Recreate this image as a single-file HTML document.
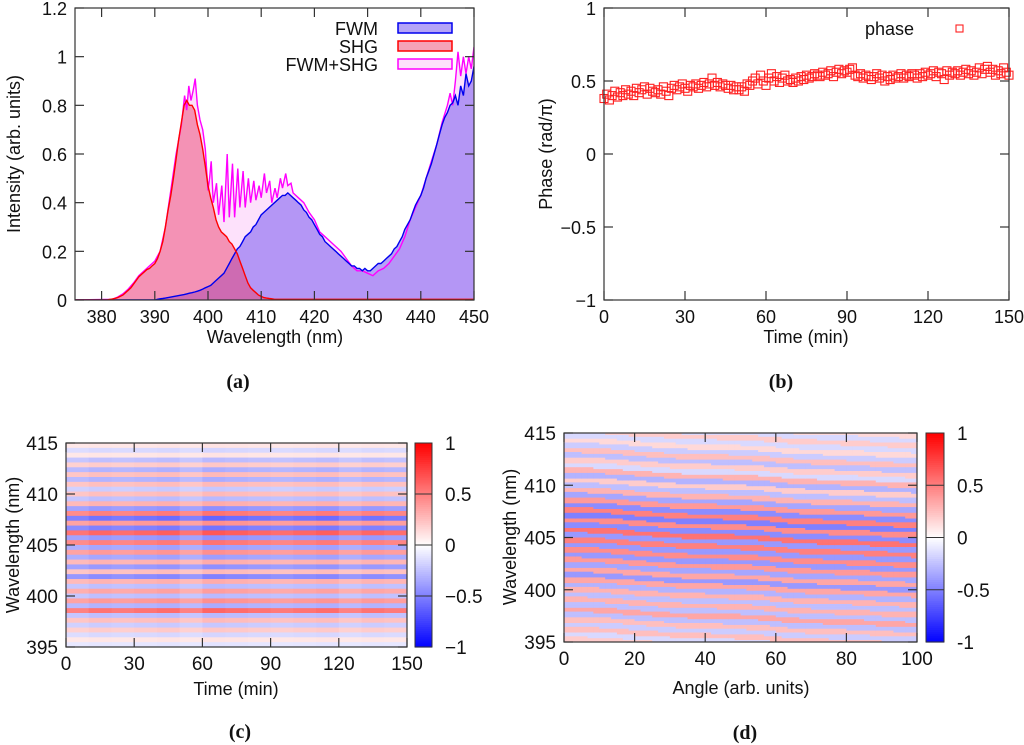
<!DOCTYPE html>
<html><head><meta charset="utf-8"><style>
body{margin:0;background:#fff;width:1024px;height:745px;overflow:hidden}
svg{display:block}
text{font-family:"Liberation Sans",sans-serif;fill:#111}
.lab{font-family:"Liberation Serif",serif;font-weight:bold;font-size:20px}
</style></head><body>
<svg id="fig" width="1024" height="745"></svg>
<script>
// ---------- Panel (a) data ----------
const specStart = 375, specStep = 0.5;
const shgVals = [0,0,0,0,0,0,0,0,0,0,0,0,0,0.002,0.004,0.006,0.01,0.015,0.02,0.03,0.04,0.05,0.065,0.08,0.095,0.105,0.115,0.125,0.13,0.14,0.15,0.17,0.2,0.24,0.3,0.37,0.43,0.5,0.58,0.66,0.73,0.8,0.82,0.8,0.8,0.78,0.72,0.68,0.62,0.55,0.47,0.42,0.38,0.33,0.3,0.28,0.27,0.26,0.24,0.23,0.21,0.19,0.16,0.13,0.1,0.07,0.05,0.04,0.03,0.02,0.015,0.01,0.008,0.006,0.005,
0.003,0.003,0.003,0.003,0.003,0.003,0.003,0.003,0.003,0.003,0.003,0.003,0.003,0.003,0.003,0.003,0.003,0.003,0.003,0.003,0.003,0.003,0.003,0.003,0.003,0.003,0.003,0.003,0.003,0.003,0.003,0.003,0.003,0.003,0.003,0.003,0.003,0.003,0.003,0.003,0.003,0.003,0.003,0.003,0.003,0.003,0.003,0.003,0.003,0.003,0.003,0.003,0.003,0.003,0.003,0.003,0.003,0.003,0.003,0.003,0.003,0.003,0.003,0.003,0.003,0.003,0.003,0.003,0.003,0.003,0.003,0.003,0.003,0.003,0.003,0.003];
const fwmVals = [0,0,0,0,0,0,0,0,0,0,0,0,0,0,0,0,0,0,0,0,0,0,0,0,0,0,0,0,0,0,0,
0.003,0.005,0.006,0.008,0.01,0.012,0.014,0.016,0.018,0.02,0.022,0.025,0.028,0.03,0.033,0.036,0.04,0.045,0.05,
0.055,0.06,0.07,0.08,0.09,0.1,0.11,0.13,0.15,0.17,0.19,0.21,0.22,0.24,0.26,0.27,0.28,0.3,0.31,0.33,0.35,0.36,0.37,0.38,0.39,0.4,0.41,0.42,0.43,0.43,0.44,0.43,0.42,0.41,0.4,0.39,0.37,0.36,0.34,0.33,0.31,0.29,0.27,0.26,0.24,0.23,0.22,0.21,0.2,0.19,0.18,0.17,0.16,0.15,0.14,0.14,0.13,0.13,0.12,0.13,0.12,0.12,0.13,0.14,0.15,0.15,0.16,0.17,0.18,0.19,0.21,0.22,0.24,0.26,0.29,0.31,0.33,0.36,0.39,0.41,0.43,0.46,0.5,0.53,0.56,0.6,0.64,0.68,0.72,0.75,0.77,0.8,0.81,0.84,0.8,0.88,0.84,0.93,0.88,0.9,0.96];
const sumX = [375,382,383,384,385,386,387,388,389,390,391,392,393,394,395,395.6,396,396.4,396.8,397.2,397.6,398,398.5,399,399.5,400,400.3,400.6,401,401.6,402,402.6,403,403.6,404,404.6,405,405.6,406,406.6,407,407.6,408,408.6,409,409.6,410,410.6,411,411.6,412,412.6,413,413.6,414,414.6,415,415.6,416,417,418,419,420,421,422,423,424,425,426,427,428,429,430,431,432,433,434,435,436,437,438,439,440,441,442,443,444,445,445.5,446,446.5,447,447.5,448,448.5,449,449.5,450];
const sumY = [0,0.003,0.012,0.025,0.045,0.07,0.1,0.12,0.14,0.16,0.2,0.3,0.45,0.6,0.72,0.84,0.78,0.88,0.82,0.86,0.91,0.8,0.74,0.7,0.62,0.45,0.5,0.57,0.4,0.48,0.35,0.47,0.32,0.6,0.34,0.56,0.34,0.54,0.38,0.53,0.38,0.5,0.4,0.49,0.41,0.47,0.42,0.52,0.44,0.49,0.4,0.46,0.42,0.5,0.46,0.52,0.47,0.48,0.44,0.42,0.4,0.36,0.33,0.28,0.26,0.24,0.22,0.2,0.17,0.14,0.12,0.12,0.11,0.1,0.12,0.13,0.15,0.18,0.21,0.26,0.33,0.38,0.43,0.5,0.57,0.64,0.73,0.8,0.85,0.8,0.9,1.02,0.92,1.0,0.93,1.0,0.95,1.04];
const aXTicks = [380,390,400,410,420,430,440,450];
const aYTicks = [0,0.2,0.4,0.6,0.8,1,1.2];
const aYLabels = ["0","0.2","0.4","0.6","0.8","1","1.2"];

// ---------- Panel (b) data ----------
const phaseVals = [.38,.41,.37,.40,.43,.39,.42,.40,.44,.41,.43,.40,.45,.42,.44,.46,.41,.45,.43,.42,.44,.41,.46,.43,.40,.45,.47,.44,.46,.48,.45,.43,.47,.46,.48,.45,.47,.49,.46,.48,.52,.47,.49,.46,.48,.47,.45,.47,.44,.46,.44,.46,.43,.48,.47,.50,.52,.48,.54,.50,.47,.52,.55,.50,.53,.49,.52,.54,.50,.51,.49,.52,.50,.53,.51,.54,.52,.53,.55,.54,.53,.56,.54,.55,.57,.53,.56,.58,.55,.57,.56,.58,.59,.54,.53,.55,.52,.54,.53,.51,.53,.55,.52,.54,.50,.53,.51,.54,.52,.53,.55,.52,.54,.53,.55,.54,.52,.55,.53,.56,.54,.55,.57,.53,.56,.55,.51,.57,.54,.56,.55,.57,.54,.56,.58,.55,.57,.54,.56,.59,.55,.58,.60,.56,.58,.54,.57,.55,.59,.56,.54];
const phaseStepMin = 1;
const bXTicks = [0,30,60,90,120,150];
const bYTicks = [-1,-0.5,0,0.5,1];
const bYLabels = ["\u22121","\u22120.5","0","0.5","1"];

// ---------- Panel (c) data ----------
const cRows = [0.1,-0.15,0.1,-0.25,0.2,-0.3,0.25,-0.3,0.25,-0.2,0.25,-0.25,0.3,-0.4,0.5,-0.55,0.4,-0.5,0.6,-0.4,0.5,-0.35,0.4,-0.35,0.3,-0.4,0.25,-0.45,0.3,-0.25,0.35,-0.25,0.4,-0.3,0.55,-0.25,0.25,-0.2,0.2,-0.15,0.1,-0.1];
const cColScale = [0.9,1,0.95,1,1.05,0.9,1.1,1.05,1,0.95,1,1.05,0.9,1,0.95];
const cXTicks = [0,30,60,90,120,150];
const wlTicks = [395,400,405,410,415];
const cbTicks = [-1,-0.5,0,0.5,1];
const cbLabelsC = ["\u22121","\u22120.5","0","0.5","1"];

// ---------- Panel (d) data ----------
const dRows = [0.15,-0.15,0.2,-0.15,0.15,-0.2,0.25,-0.25,0.2,-0.15,0.3,-0.3,0.2,-0.25,0.3,-0.35,0.4,-0.45,0.5,-0.5,0.45,-0.45,0.55,-0.4,0.5,-0.4,0.45,-0.4,0.4,-0.35,0.35,-0.4,0.35,-0.3,0.3,-0.25,0.3,-0.25,0.35,-0.25,0.25,-0.2,0.25,-0.15,0.2,-0.1,0.35,-0.15,0.25,-0.15];
const dShiftAngles = [0,5,10,15,20,25,30,35,40,45,50,55,60,65,70,75,80,85,90,95,100];
const dShift = [0,0,0.05,0.15,0.3,0.4,0.5,0.6,0.6,0.65,0.7,0.75,0.9,1.05,1.1,1.15,1.2,1.25,1.35,1.4,1.45];
const dXTicks = [0,20,40,60,80,100];
const cbLabelsD = ["-1","-0.5","0","0.5","1"];

const NS="http://www.w3.org/2000/svg";
const fig=document.getElementById('fig');
function el(tag,attrs,parent){const e=document.createElementNS(NS,tag);for(const k in attrs)e.setAttribute(k,attrs[k]);(parent||fig).appendChild(e);return e;}
function txt(x,y,s,size,anchor,parent,extra){const t=el('text',Object.assign({x:x,y:y,'font-size':size,'text-anchor':anchor||'middle'},extra||{}),parent);t.textContent=s;return t;}
function lin(d0,d1,p0,p1){return v=>p0+(v-d0)*(p1-p0)/(d1-d0);}
function cmap(v){v=Math.max(-1,Math.min(1,v));let r,g,b;if(v>=0){r=255;g=b=Math.round(255*(1-v));}else{b=255;r=g=Math.round(255*(1+v));}return `rgb(${r},${g},${b})`;}
function axesFrame(g,L,T,R,B){el('rect',{x:L,y:T,width:R-L,height:B-T,fill:'none',stroke:'#333','stroke-width':1.2},g);}
function xTicks(g,ticks,labels,sx,T,B,size,name){ticks.forEach((t,i)=>{const x=sx(t);el('line',{x1:x,x2:x,y1:B,y2:B-9,stroke:'#333','stroke-width':1.2},g);el('line',{x1:x,x2:x,y1:T,y2:T+9,stroke:'#333','stroke-width':1.2},g);const tt=txt(x,B+23,labels[i],size,'middle',g);

});}
function yTicks(g,ticks,labels,sy,L,R,size,name){ticks.forEach((t,i)=>{const y=sy(t);el('line',{x1:L,x2:L+9,y1:y,y2:y,stroke:'#333','stroke-width':1.2},g);el('line',{x1:R,x2:R-9,y1:y,y2:y,stroke:'#333','stroke-width':1.2},g);const tt=txt(L-8,y+7,labels[i],size,'end',g);

});}

// ===== Panel a =====
(function(){
const g=el('g',{});
const L=75,R=474,T=8,B=300;const sx=lin(375,450,L,R),sy=lin(0,1.2,B,T);
const clip=el('clipPath',{id:'ca'},g);el('rect',{x:L,y:T,width:R-L,height:B-T},clip);
const pg=el('g',{'clip-path':'url(#ca)'},g);
function pathFrom(xs,ys){return xs.map((x,i)=>(i?'L':'M')+sx(x).toFixed(1)+','+sy(ys[i]).toFixed(1)).join(' ');}
const gx=shgVals.map((_,i)=>specStart+i*specStep);
const fx=fwmVals.map((_,i)=>specStart+i*specStep);
const sp=pathFrom(sumX,sumY),fp=pathFrom(fx,fwmVals),hp=pathFrom(gx,shgVals);
const close=(p,x0,x1)=>p+` L${sx(x1)},${B} L${sx(x0)},${B} Z`;
let e;
e=el('path',{d:close(sp,sumX[0],sumX[sumX.length-1]),fill:'rgba(252,200,248,0.55)'},pg);

e=el('path',{d:close(fp,fx[0],fx[fx.length-1]),fill:'rgba(120,90,240,0.55)'},pg);

e=el('path',{d:close(hp,gx[0],gx[gx.length-1]),fill:'rgba(235,60,105,0.48)'},pg);

e=el('path',{d:sp,fill:'none',stroke:'#ff00ff','stroke-width':1.4},pg);

e=el('path',{d:fp,fill:'none',stroke:'#0000ee','stroke-width':1.4},pg);

e=el('path',{d:hp,fill:'none',stroke:'#ff0000','stroke-width':1.4},pg);

axesFrame(g,L,T,R,B);
xTicks(g,aXTicks,aXTicks.map(String),sx,T,B,18,'a-x');
yTicks(g,aYTicks,aYLabels,sy,L,R,18,'a-y');
let t=txt(275,343,'Wavelength (nm)',18,'middle',g);
t=txt(0,0,'Intensity (arb. units)',18,'middle',g,{transform:'translate(20,154) rotate(-90)'});
const leg=[['FWM','rgba(120,90,240,0.55)','#0000ee'],['SHG','rgba(235,60,105,0.48)','#ff0000'],['FWM+SHG','rgba(252,200,248,0.55)','#ff00ff']];
leg.forEach((l,i)=>{const y=28+i*18;const lg=el('g',{},g);
txt(378,y+7,l[0],18,'end',lg);el('rect',{x:398,y:y-5,width:54,height:10,fill:l[1],stroke:l[2],'stroke-width':1.5},lg);});
t=txt(238,388,'(a)',20,'middle',g,{class:'lab'});
})();

// ===== Panel b =====
(function(){
const g=el('g',{});
const L=604,R=1009,T=8,B=300;const sx=lin(0,150,L,R),sy=lin(-1,1,B,T);
phaseVals.forEach((v,i)=>{const r=el('rect',{x:sx(i*phaseStepMin)-4,y:sy(v)-4,width:8,height:8,fill:'none',stroke:'#ff2020','stroke-width':1.1},g);

});
axesFrame(g,L,T,R,B);
xTicks(g,bXTicks,bXTicks.map(String),sx,T,B,18,'b-x');
yTicks(g,bYTicks,bYLabels,sy,L,R,18,'b-y');
let t=txt(806,343,'Time (min)',18,'middle',g);
t=txt(0,0,'Phase (rad/\u03c0)',18,'middle',g,{transform:'translate(552,154) rotate(-90)'});
const lg=el('g',{},g);
txt(914,35,'phase',18,'end',lg);el('rect',{x:956,y:25,width:7,height:7,fill:'none',stroke:'#ff2020','stroke-width':1.1},lg);
t=txt(781,388,'(b)',20,'middle',g,{class:'lab'});
})();

function colorbar(g,x,T,B,w,labels,name){
const sy=lin(-1,1,B,T);const n=100;
for(let i=0;i<n;i++){const v=-1+2*(i+0.5)/n;el('rect',{x:x,y:sy(-1+2*(i+1)/n),width:w,height:(B-T)/n+0.6,fill:cmap(v)},g);}
el('rect',{x:x,y:T,width:w,height:B-T,fill:'none',stroke:'#333','stroke-width':1},g);
cbTicks.forEach((t,i)=>{const y=sy(t);el('line',{x1:x,x2:x+w,y1:y,y2:y,stroke:'#333','stroke-width':1},g);const tt=txt(x+w+13,y+7,labels[i],19,'start',g);

});
}

// ===== Panel c =====
(function(){
const g=el('g',{});
const L=66,R=407,T=443,B=647;const sx=lin(0,150,L,R),sy=lin(395,415,B,T);
const nR=cRows.length,nC=cColScale.length,dw=20/nR,dt=150/nC;
cRows.forEach((a,i)=>{cColScale.forEach((s,j)=>{const w1=415-i*dw;const r=el('rect',{x:sx(j*dt),y:sy(w1),width:sx(dt)-sx(0)+0.5,height:sy(395)-sy(395+dw)+0.5,fill:cmap(a*s)},g);

});});
axesFrame(g,L,T,R,B);
xTicks(g,cXTicks,cXTicks.map(String),sx,T,B,19,'c-x');
yTicks(g,wlTicks,wlTicks.map(String),sy,L,R,19,'c-y');
colorbar(g,415,T,B,17,cbLabelsC,'c');
let t=txt(236,695,'Time (min)',18,'middle',g);
t=txt(0,0,'Wavelength (nm)',18,'middle',g,{transform:'translate(19,545) rotate(-90)'});
t=txt(240,738,'(c)',20,'middle',g,{class:'lab'});
})();

// ===== Panel d =====
(function(){
const g=el('g',{});
const L=564,R=917,T=433,B=642;const sx=lin(0,100,L,R),sy=lin(395,415,B,T);
const dw=20/42, top=415+3*dw;
function shiftAt(a){for(let k=0;k<dShiftAngles.length-1;k++){if(a<=dShiftAngles[k+1]){const f=(a-dShiftAngles[k])/(dShiftAngles[k+1]-dShiftAngles[k]);return dShift[k]+f*(dShift[k+1]-dShift[k]);}}return dShift[dShift.length-1];}
const nCol=60,nSub=110;
for(let j=0;j<nCol;j++){const a=(j+0.5)*100/nCol;const sh=shiftAt(a);
for(let k=0;k<nSub;k++){const w=415-(k+0.5)*20/nSub;const idx=Math.max(0,Math.min(dRows.length-1,Math.floor((top-(w+sh))/dw)));
const r=el('rect',{x:sx(j*100/nCol),y:sy(415-k*20/nSub),width:(R-L)/nCol+0.5,height:(B-T)/nSub+0.5,fill:cmap(dRows[idx])},g);

}}
axesFrame(g,L,T,R,B);
xTicks(g,dXTicks,dXTicks.map(String),sx,T,B,19,'d-x');
yTicks(g,wlTicks,wlTicks.map(String),sy,L,R,19,'d-y');
colorbar(g,926,T,B,18,cbLabelsD,'d');
let t=txt(741,694,'Angle (arb. units)',18,'middle',g);
t=txt(0,0,'Wavelength (nm)',18,'middle',g,{transform:'translate(516,537) rotate(-90)'});
t=txt(745,739,'(d)',20,'middle',g,{class:'lab'});
})();
</script>
</body></html>
